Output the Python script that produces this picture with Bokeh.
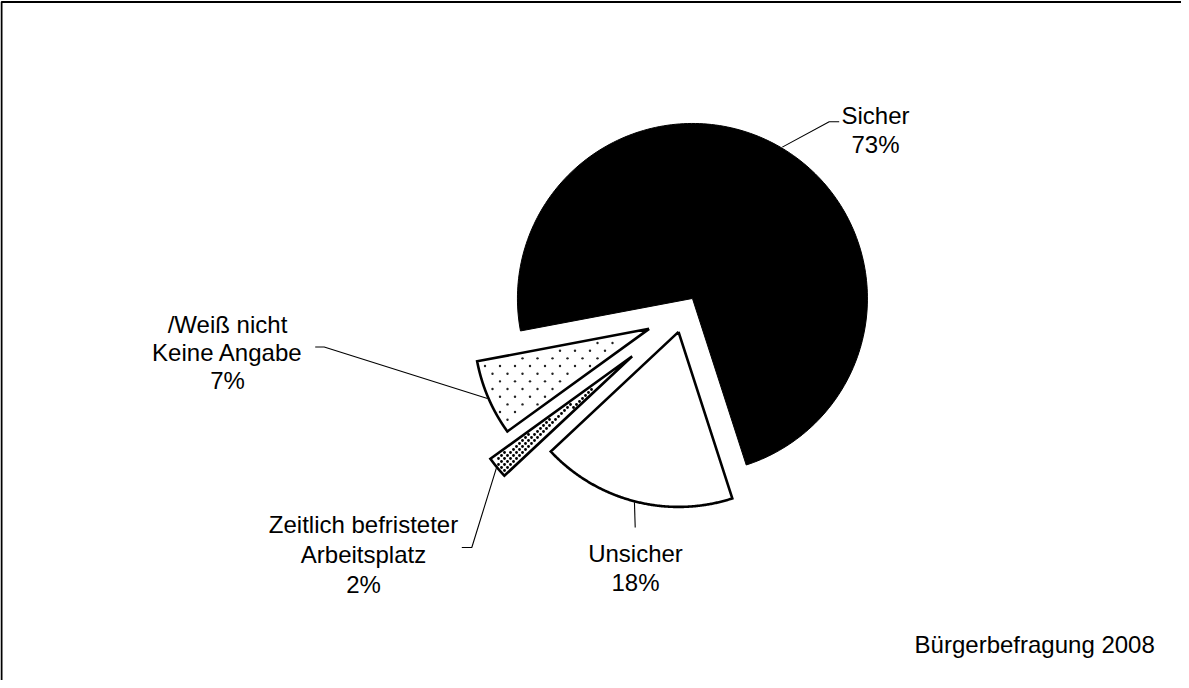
import numpy as np
from bokeh.plotting import figure
from bokeh.models import Range1d
from bokeh.embed import file_html
from bokeh.resources import INLINE
from bokeh.core.properties import value

# ---------------- data ----------------
categories = ["Sicher", "Unsicher", "Zeitlich befristeter Arbeitsplatz", "/Weiß nicht Keine Angabe"]
percent = [73, 18, 2, 7]
label_lines = [
    ["Sicher", "73%"],
    ["Unsicher", "18%"],
    ["Zeitlich befristeter", "Arbeitsplatz", "2%"],
    ["/Weiß nicht", "Keine Angabe", "7%"],
]
source_note = "Bürgerbefragung 2008"

# ---------------- layout / style ----------------
W, H = 1181, 680


def Y(sy):
    return 688 - sy


CX, CY = 690.6, Y(321.7)
RADIUS = 175
START_ANGLE = 190.7          # degrees, slices run clockwise
EXPLODE = [18.3, 18.3, 66, 37]
FILLS = ["black", "white", "white", "white"]
PATTERNS = [None, None, "dense", "sparse"]
FONT = value("Liberation Sans")
FSIZE = "24px"

# label anchors: centre x, first baseline (screen y), line spacing
LABEL_POS = [(883, 123.3, 28.4), (643, 560.5, 29.5), (371, 531.7, 30.0), (235, 331.7, 28.3)]
# leader elbow/end points (screen coords)
LEADERS = [
    [(836.7, 129.3), (846.7, 129.3)],
    [(642.7, 535.0)],
    [(479.3, 555.0), (469.3, 555.0)],
    [(331.7, 354.5), (322.7, 354.5)],
]

p = figure(width=W, height=H, output_backend="svg", toolbar_location=None,
           x_range=Range1d(8, 8 + W), y_range=Range1d(0, H),
           x_axis_type=None, y_axis_type=None, min_border=0)
p.grid.visible = False
p.outline_line_color = None
p.background_fill_color = "white"
p.border_fill_color = "white"

# border (left and top visible)
p.line([9, 9, 1189], [0, Y(9.5), Y(9.5)], line_color="black", line_width=2)

total = float(sum(percent))
a0 = START_ANGLE
for i, v in enumerate(percent):
    span = v / total * 360.0
    a_start = a0
    a_end = a0 - span
    a0 = a_end
    mid = np.radians((a_start + a_end) / 2)
    ax = CX + EXPLODE[i] * np.cos(mid)
    ay = CY + EXPLODE[i] * np.sin(mid)
    th = np.radians(np.linspace(a_start, a_end, 200))
    xs = np.concatenate([[ax], ax + RADIUS * np.cos(th), [ax]])
    ys = np.concatenate([[ay], ay + RADIUS * np.sin(th), [ay]])
    if FILLS[i] == "black":
        p.patch(xs, ys, fill_color="black", line_color="black", line_width=1)
    else:
        p.patch(xs, ys, fill_color="white", line_color=None)
    # pattern dots
    if PATTERNS[i] is not None:
        if PATTERNS[i] == "sparse":
            dx, dy, size, col, marg = 15.0, 7.67, 2.4, "#222222", 4
        else:
            dx, dy, size, col, marg = 6.0, 3.0, 2.8, "black", 2.5
        gx, gy = np.meshgrid(np.arange(440, 720, dx), np.arange(0, 700, dy))
        rows = np.round(gy / dy).astype(int)
        gx = gx + (rows % 2) * dx / 2
        gx, gy = gx.ravel(), gy.ravel()
        vx, vy = gx - ax, gy - ay
        d = np.hypot(vx, vy)
        ang = np.degrees(np.arctan2(vy, vx))
        ang = (ang - a_end) % 360 + a_end
        inside = (d <= RADIUS - marg) & (ang <= a_start)
        e1 = d * np.sin(np.radians(ang - a_end))
        e2 = d * np.sin(np.radians(a_start - ang))
        inside &= (e1 >= marg) & (e2 >= marg)
        p.scatter(gx[inside], gy[inside], marker="circle", size=size,
                  fill_color=col, line_color=None)
    if FILLS[i] != "black":
        p.line(xs, ys, line_color="black", line_width=2.6, line_join="miter")

    # leader line
    sx = ax + (RADIUS + 1) * np.cos(mid)
    sy = ay + (RADIUS + 1) * np.sin(mid)
    lx = [sx] + [pt[0] for pt in LEADERS[i]]
    ly = [sy] + [Y(pt[1]) for pt in LEADERS[i]]
    p.line(lx, ly, line_color="black", line_width=1.1)

    # labels
    lxc, base, step = LABEL_POS[i]
    for k, t in enumerate(label_lines[i]):
        p.text([lxc], [Y(base + k * step)], text=[t], text_font=FONT,
               text_font_size=FSIZE, text_align="center",
               text_baseline="alphabetic", text_color="black")

p.text([1042.2], [Y(652.3)], text=[source_note], text_font=FONT,
       text_font_size=FSIZE, text_align="center", text_baseline="alphabetic",
       text_color="black")

open("out.html", "w").write(file_html(p, INLINE))
